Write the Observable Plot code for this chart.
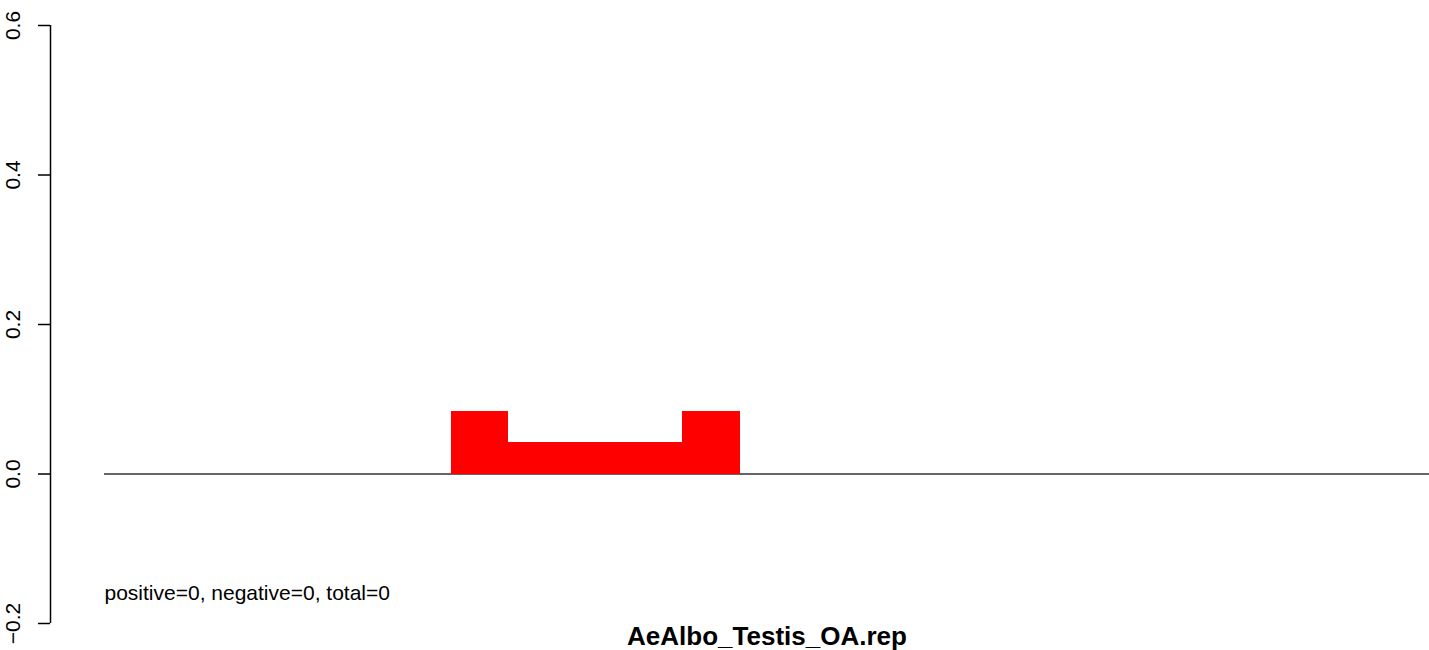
<!DOCTYPE html>
<html>
<head>
<meta charset="utf-8">
<script src="https://cdn.jsdelivr.net/npm/d3@7"></script>
<script src="https://cdn.jsdelivr.net/npm/@observablehq/plot@0.6"></script>
<style>
  html, body { margin: 0; padding: 0; background: #fff; }
  svg { display: block; }
</style>
</head>
<body>
<div id="chart"></div>
<script>
// Data
const binStarts = [6, 7, 8, 9, 10];
const binValues = [0.0833, 0.0417, 0.0417, 0.0417, 0.0833];
const yTicks = [-0.2, 0, 0.2, 0.4, 0.6];
const countsLabel = "positive=0, negative=0, total=0";
const title = "AeAlbo_Testis_OA.rep";

const bars = binStarts.map((b, i) => ({x1: b, x2: b + 1, y: binValues[i]}));

const chart = Plot.plot({
  width: 1429,
  height: 650,
  marginLeft: 104,
  marginRight: 0,
  marginTop: 25,
  marginBottom: 27,
  style: {fontFamily: "'Liberation Sans', Arial, sans-serif", fontSize: "21px", background: "#fff", color: "#000"},
  x: {domain: [0, 22.93], axis: null},
  y: {domain: [-0.2, 0.6]},
  marks: [
    Plot.ruleY([0], {stroke: "#333", strokeWidth: 1.3}),
    Plot.rectY(bars, {x1: "x1", x2: "x2", y: "y", fill: "#ff0000", inset: 0, shapeRendering: "crispEdges"}),
    Plot.ruleX([0], {y1: -0.2, y2: 0.6, dx: -54, stroke: "#000", strokeWidth: 1.5}),
    Plot.axisY({
      ticks: yTicks,
      tickSize: 12,
      tickRotate: -90,
      tickPadding: 19,
      dx: -54,
      tickFormat: d3.format(".1f"),
      label: null,
      fontSize: 21,
      stroke: "#000",
      strokeWidth: 1.5
    }),
    Plot.text([countsLabel], {text: d => d, frameAnchor: "bottom-left", textAnchor: "start", lineAnchor: "middle", dy: -30, fontSize: 21, fill: "#000"}),
    Plot.text([title], {text: d => d, frameAnchor: "bottom", lineAnchor: "middle", dy: 13, fontSize: 26, fontWeight: "bold", fill: "#000"})
  ]
});
document.getElementById("chart").appendChild(chart);
</script>
</body>
</html>
